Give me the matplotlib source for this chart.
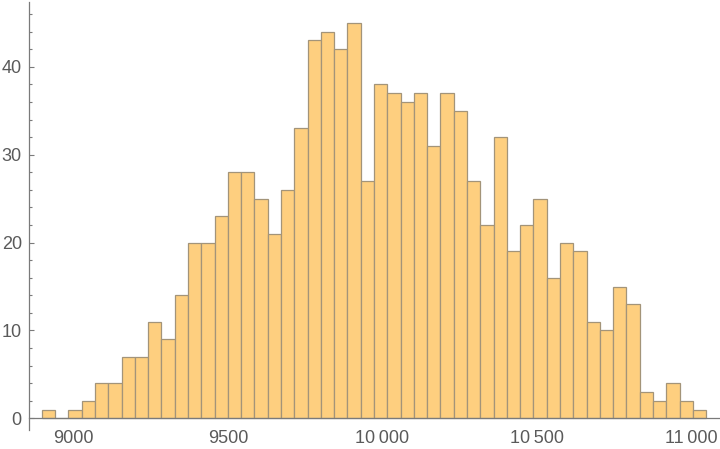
import numpy as np
import matplotlib
matplotlib.use("Agg")
import matplotlib.pyplot as plt
from matplotlib.ticker import MultipleLocator, FuncFormatter

# Data: histogram counts
counts = [1, 0, 1, 2, 4, 4, 7, 7, 11, 9,
          14, 20, 20, 23, 28, 28, 25, 21, 26, 33,
          43, 44, 42, 45, 27, 38, 37, 36, 37, 31,
          37, 35, 27, 22, 32, 19, 22, 25, 16, 20,
          19, 11, 10, 15, 13, 3, 2, 4, 2, 1]
bin_start = 8897.5
bin_width = 43.03
x_ticks = [9000, 9500, 10000, 10500, 11000]
y_ticks = [0, 10, 20, 30, 40]

edges = bin_start + bin_width * np.arange(len(counts) + 1)

plt.rcParams['font.family'] = ['Liberation Sans', 'DejaVu Sans']

fig = plt.figure(figsize=(7.2, 4.49), dpi=100)
ax = fig.add_axes([0.0399, 0.0423, 0.9601, 0.9537])

ax.bar(edges[:-1], counts, width=bin_width, align='edge',
       color='#fecf7f', edgecolor='#a39479', linewidth=0.9, zorder=2)

ax.set_xlim(8855, 11094)
ax.set_ylim(-1.33, 47.4)

for s in ['top', 'right']:
    ax.spines[s].set_visible(False)
ax.spines['bottom'].set_position(('data', 0))
for s in ['left', 'bottom']:
    ax.spines[s].set_color('#7a7a7a')
    ax.spines[s].set_linewidth(0.9)
    ax.spines[s].set_zorder(3)

ax.set_xticks(x_ticks)
ax.xaxis.set_minor_locator(MultipleLocator(100))
ax.set_yticks(y_ticks)
ax.yaxis.set_minor_locator(MultipleLocator(2))

def fmt(v, pos):
    v = int(round(v))
    if v >= 10000:
        s = f"{v:,}".replace(",", "\u2009")
        return s
    return str(v)

ax.xaxis.set_major_formatter(FuncFormatter(fmt))

ax.tick_params(axis='both', which='both', direction='in', colors='#7a7a7a',
               labelcolor='#5a5a5a', labelsize=13, width=0.8, zorder=4)
ax.tick_params(axis='both', which='major', length=3.6)
ax.tick_params(axis='both', which='minor', length=2.0)
ax.tick_params(axis='x', which='major', pad=8.5)
ax.tick_params(axis='y', which='major', pad=5)

fig.savefig("out.png", dpi=100)
